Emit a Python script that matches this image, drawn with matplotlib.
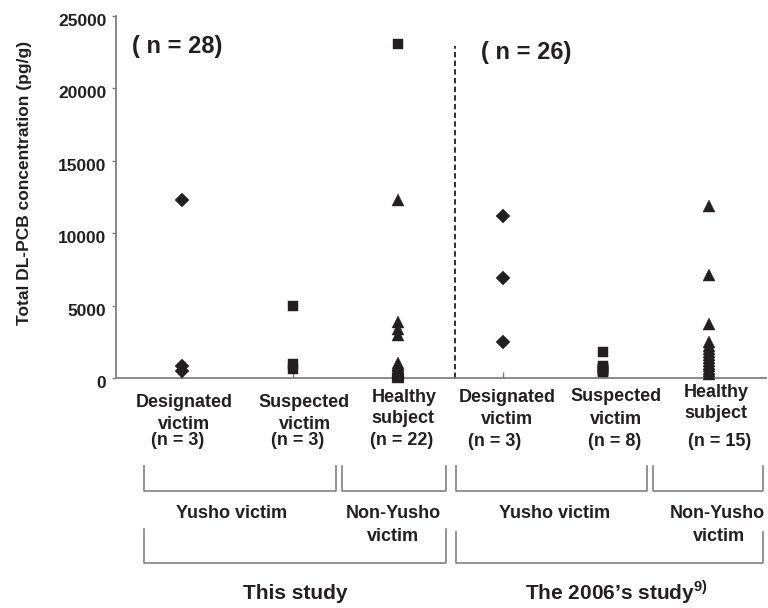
import matplotlib
matplotlib.use("Agg")
import matplotlib.pyplot as plt
from matplotlib.lines import Line2D
from matplotlib.transforms import ScaledTranslation

plt.rcParams['font.family'] = ['Liberation Sans', 'DejaVu Sans']
plt.rcParams['font.weight'] = 'bold'
plt.rcParams['mathtext.fontset'] = 'custom'
plt.rcParams['mathtext.rm'] = 'Liberation Sans:bold'
plt.rcParams['mathtext.bf'] = 'Liberation Sans:bold'

# ---- data (pg/g) ----
designated_1 = [12300, 800, 450]
suspected_1 = [4950, 950, 600]
healthy_1 = [23100, 12300, 3900, 3400, 3000, 1050, 900, 800, 700, 650, 600,
             550, 500, 450, 400, 350, 300, 280, 250, 200, 150, 100]
healthy_1_markers = ['s'] + ['^'] * 21
designated_2 = [11200, 6900, 2500]
suspected_2 = [1800, 800, 700, 650, 600, 500, 450, 400]
healthy_2 = [11900, 7100, 3700, 2500, 2200, 2000, 1800, 1600, 1400, 1200,
             1000, 800, 600, 450, 300]

yticks = [0, 5000, 10000, 15000, 20000, 25000]
ylabel = "Total DL-PCB concentration (pg/g)"
n_labels = ["( n = 28)", "( n = 26)"]

# ---- layout ----
W, H = 768, 608
INK = '#231f20'
GRAY = '#808080'
fig = plt.figure(figsize=(W / 100, H / 100), dpi=100)
ax = fig.add_axes([116 / W, 1 - 378 / H, (766 - 116) / W, (378 - 16) / H])

xpos = [1.0, 2.053, 3.049, 4.046, 4.994, 6.0]
groups = [
    (designated_1, ['D'] * len(designated_1)),
    (suspected_1, ['s'] * len(suspected_1)),
    (healthy_1, healthy_1_markers),
    (designated_2, ['D'] * len(designated_2)),
    (suspected_2, ['s'] * len(suspected_2)),
    (healthy_2, ['^'] * len(healthy_2)),
]
msize = {'D': 7.6, 's': 7.3, '^': 8.6}
for x, (vals, marks) in zip(xpos, groups):
    for v, m in zip(vals, marks):
        ax.plot([x], [v], marker=m, ms=msize[m], color=INK, mec=INK,
                mew=0.3, linestyle='none', clip_on=False, zorder=3)

ax.set_xlim(0.374, 6.541)
ax.set_ylim(0, 25000)
ax.set_yticks(yticks)
ax.set_yticklabels([str(t) for t in yticks], fontsize=12.5,
                   fontweight='bold', color=INK)
ax.set_xticks(xpos)
ax.set_xticklabels([])
ax.tick_params(axis='x', direction='in', length=4, width=1, color=GRAY)
ax.tick_params(axis='y', direction='out', length=3, width=1, color=GRAY, pad=4)
for lab in ax.get_yticklabels():
    lab.set_transform(lab.get_transform() +
                      ScaledTranslation(0, -4 / 100, fig.dpi_scale_trans))
for s in ['top', 'right']:
    ax.spines[s].set_visible(False)
for s in ['left', 'bottom']:
    ax.spines[s].set_color(GRAY)
    ax.spines[s].set_linewidth(1.3)

ax.set_ylabel(ylabel, fontsize=12.5, fontweight='bold', color=INK, va='center')
ax.yaxis.set_label_coords((25 - 116) / 650, (378 - 183) / 362)

# dashed divider between the two studies
ax.vlines(3.595, 0, 22900, colors=INK, linestyles=(0, (3, 1.8)), lw=1.3,
          zorder=2)


def fx(px):
    return px / W


def fy(py):
    return 1 - py / H


def txt(x, y, s, size=13, ha='center', va='baseline'):
    fig.text(fx(x), fy(y), s, fontsize=size, fontweight='bold', color=INK,
             ha=ha, va=va)


txt(177, 47, n_labels[0], size=17, va='center')
txt(526, 53, n_labels[1], size=17, va='center')

# category labels
cat_lines = [
    [(184, 407, "Designated"), (184, 429, "victim"), (178, 445, "(n = 3)")],
    [(304, 407, "Suspected"), (305, 429, "victim"), (298, 445, "(n = 3)")],
    [(404, 402, "Healthy"), (403, 423, "subject"), (402, 445, "(n = 22)")],
    [(507, 402, "Designated"), (507, 424, "victim"), (495, 446, "(n = 3)")],
    [(616, 401, "Suspected"), (616, 424, "victim"), (615, 446, "(n = 8)")],
    [(716, 397, "Healthy"), (716, 418, "subject"), (720, 446, "(n = 15)")],
]
for lines in cat_lines:
    for x, y, s in lines:
        txt(x, y, s)


def bracket(x0, x1, ytop, ybot):
    fig.add_artist(Line2D([fx(x0), fx(x0), fx(x1), fx(x1)],
                          [fy(ytop), fy(ybot), fy(ybot), fy(ytop)],
                          color=GRAY, lw=1.2))


bracket(144, 336, 466, 491)
bracket(342, 446, 466, 491)
bracket(456, 647, 466, 491)
bracket(653, 763, 466, 491)
bracket(144, 446, 529, 563)
bracket(456, 763, 532, 563)

txt(232, 518, "Yusho victim")
txt(393, 518, "Non-Yusho")
txt(393, 541, "victim")
txt(555, 518, "Yusho victim")
txt(717, 518, "Non-Yusho")
txt(719, 541, "victim")

txt(295, 599, "This study", size=15)
txt(616, 599, "The 2006\u2019s study$^{\\mathrm{9)}}$", size=15)

fig.savefig("out.png", dpi=100)
